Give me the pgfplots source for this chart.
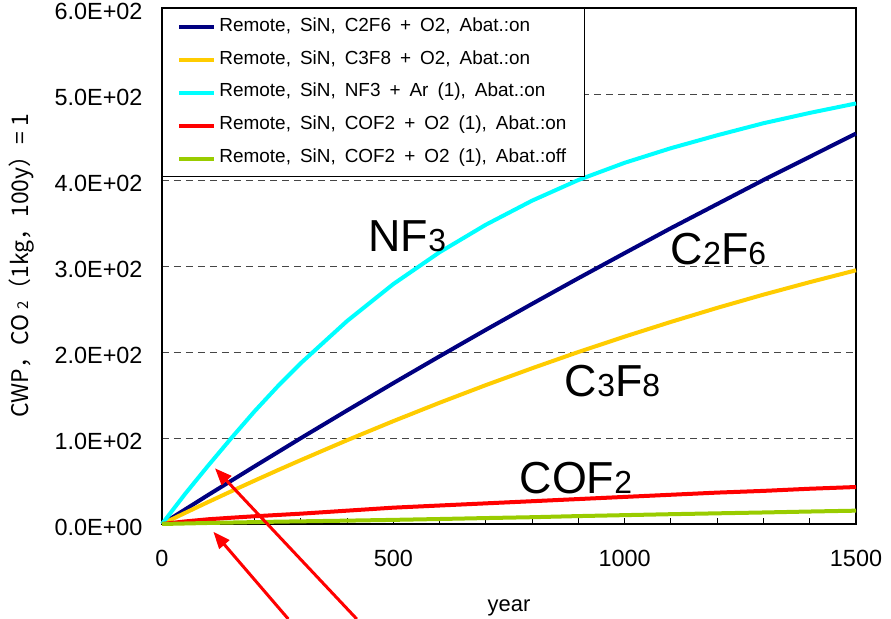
\documentclass[border=0pt]{standalone}
\usepackage{fontspec}
\setmainfont{Liberation Sans}
\newfontfamily\jpfont{Noto Sans CJK JP}
\usepackage{pgfplots}
\pgfplotsset{compat=1.18}
\usepackage{pgfplotstable}
\usetikzlibrary{arrows.meta}

\definecolor{cNavy}{RGB}{0,0,128}
\definecolor{cGold}{RGB}{255,204,0}
\definecolor{cCyan}{RGB}{0,255,255}
\definecolor{cRed}{RGB}{255,0,0}
\definecolor{cLime}{RGB}{153,204,0}
\definecolor{cGrid}{RGB}{70,70,70}

% legend entry font with wide word spacing
\newcommand\wide{\fontsize{19}{21}\selectfont\spaceskip=9bp\relax}

% cumulative warming potential (CO2 = 1) versus elapsed years
\pgfplotstableread{
t     c2f6   c3f8   nf3   cofon  cofoff
0     0      0      0     0      0
50    16.9   12.9   35    3.0    0.6
100   33.8   25.6   68    5.5    1.2
150   50.4   38.1   100   7.3    1.7
200   67.0   50.4   131   9.0    2.2
250   83.4   62.5   160   10.5   2.7
300   99.8   74.3   187   12.0   3.1
400   132.0  97.4   236   15.5   3.9
500   163.8  119.6  279   19.0   4.8
600   195.0  141.0  316   21.5   5.8
700   225.8  161.5  348   24.0   6.9
800   256.0  181.1  376   26.5   7.9
900   285.8  200.0  400   29.0   9.2
1000  315.0  217.9  420   31.5   10.3
1100  344.0  235.0  437   34.0   11.4
1200  372.0  251.3  452   36.5   12.4
1300  400.0  266.7  466   38.5   13.4
1400  427.0  281.2  478   41.0   14.5
1500  454.0  295.0  489   43.0   15.5
}\gwp

\begin{document}
\begin{tikzpicture}[x=1bp,y=1bp]
\useasboundingbox (-162,-95) rectangle (729,524);
\begin{axis}[
  at={(0,0)}, anchor=south west,
  scale only axis, width=694bp, height=516bp,
  xmin=0, xmax=1500, ymin=0, ymax=600,
  clip=false,
  axis line style={black, line width=1.2bp},
  xtick={0,500,1000,1500},
  xticklabels={0,500,1000,1500},
  minor x tick num=4,
  xtick pos=bottom,
  tick align=inside,
  major tick length=6bp, minor tick length=6bp,
  xtick style={black, line width=0.9bp},
  ytick={0,100,200,300,400,500,600},
  yticklabels={0.0E+00,1.0E+02,2.0E+02,3.0E+02,4.0E+02,5.0E+02,6.0E+02},
  ytick pos=left,
  ytick style={draw=none},
  ymajorgrids=true,
  major grid style={cGrid, line width=0.8bp, dash pattern=on 7bp off 5bp},
  tick label style={font=\fontsize{23.5}{26}\selectfont},
  yticklabel style={anchor=east, xshift=-16bp, yshift=-3bp},
  xticklabel style={anchor=north, yshift=-23bp},
  xlabel={year},
  xlabel style={at={(axis description cs:0.5,-0.163)}, anchor=center,
                font=\fontsize{22}{24}\selectfont},
  ylabel={CWP，CO {\fontsize{15}{15}\selectfont 2}（1kg，100y）= 1},
  ylabel style={at={(axis description cs:-0.2017,0.5)}, anchor=center,
                font=\jpfont\fontsize{23}{25}\selectfont},
  legend cell align=left,
  legend image code/.code={\draw[#1, line width=4bp] (0bp,0bp) -- (35bp,0bp);},
  legend style={at={(0,1)}, anchor=north west, draw=black, line width=1bp,
                fill=white, inner xsep=15bp, inner ysep=2bp, row sep=0bp,
                nodes={text height=12.5bp, text depth=4bp, inner ysep=8.2bp, inner xsep=3bp}},
]
\addplot[cNavy, line width=4bp, line join=round, no markers] table[x=t, y=c2f6] {\gwp};
\addlegendentry{\wide Remote, SiN, C2F6 + O2, Abat.:on}
\addplot[cGold, line width=4bp, line join=round, no markers] table[x=t, y=c3f8] {\gwp};
\addlegendentry{\wide Remote, SiN, C3F8 + O2, Abat.:on}
\addplot[cCyan, line width=4bp, line join=round, no markers] table[x=t, y=nf3] {\gwp};
\addlegendentry{\wide Remote, SiN, NF3 + Ar (1), Abat.:on}
\addplot[cRed, line width=4bp, line join=round, no markers] table[x=t, y=cofon] {\gwp};
\addlegendentry{\wide Remote, SiN, COF2 + O2 (1), Abat.:on}
\addplot[cLime, line width=4bp, line join=round, no markers] table[x=t, y=cofoff] {\gwp};
\addlegendentry{\wide Remote, SiN, COF2 + O2 (1), Abat.:off}

% gas names next to their curves
\node[anchor=base west, inner sep=0, font=\fontsize{45}{50}\selectfont]
  at (axis cs:446,316.6) {NF{\fontsize{32}{36}\selectfont 3}};
\node[anchor=base west, inner sep=0, font=\fontsize{45}{50}\selectfont]
  at (axis cs:1099.6,301.2) {C{\fontsize{32}{36}\selectfont 2}F{\fontsize{32}{36}\selectfont 6}};
\node[anchor=base west, inner sep=0, font=\fontsize{45}{50}\selectfont]
  at (axis cs:870.5,148.8) {C{\fontsize{32}{36}\selectfont 3}F{\fontsize{32}{36}\selectfont 8}};
\node[anchor=base west, inner sep=0, font=\fontsize{45}{50}\selectfont]
  at (axis cs:772.6,35.7) {COF{\fontsize{32}{36}\selectfont 2}};

% pointer arrows coming up from below the axis
\draw[cRed, line width=3bp, -{Triangle[length=17bp, width=13bp]}]
  (axis cs:421,-110.5) -- (axis cs:114.5,64.8);
\draw[cRed, line width=3bp, -{Triangle[length=17bp, width=13bp]}]
  (axis cs:273,-110.5) -- (axis cs:111,-9);
\end{axis}
\end{tikzpicture}
\end{document}
